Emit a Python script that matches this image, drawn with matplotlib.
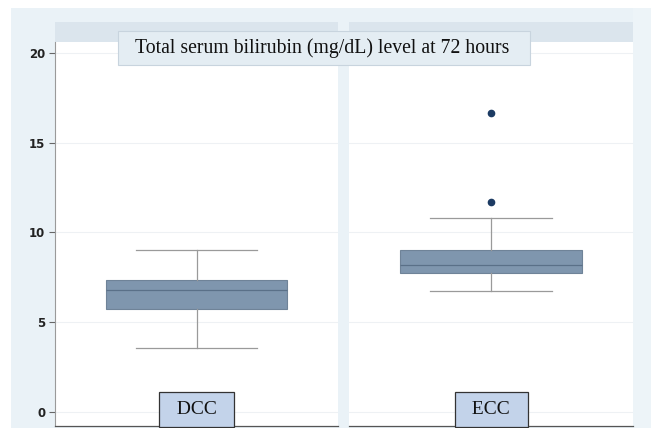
import matplotlib.pyplot as plt
from matplotlib.patches import Rectangle

# Box plot summaries (mg/dL)
groups = ["DCC", "ECC"]
q1 = [5.75, 7.74]
medians = [6.8, 8.19]
q3 = [7.34, 9.0]
whisker_low = [3.58, 6.74]
whisker_high = [9.0, 10.82]
outliers = [[], [11.7, 16.64]]

title = "Total serum bilirubin (mg/dL) level at 72 hours"
yticks = [0, 5, 10, 15, 20]

W, H = 651, 428
fig = plt.figure(figsize=(W / 100, H / 100), dpi=100)
fig.patch.set_facecolor("white")

def fx(px):
    return px / W

def fy(py):
    return 1 - py / H

# light blue-gray graph region
fig.patches.append(Rectangle((fx(11), 0), fx(640), fy(8), transform=fig.transFigure,
                             facecolor="#eaf2f7", edgecolor="none", zorder=-3))
fig.patches.append(Rectangle((fx(633), 0), fx(18), fy(8), transform=fig.transFigure,
                             facecolor="#edf4f8", edgecolor="none", zorder=-2))

panels = [(55, 338), (349, 633)]
axes = []
for i, (x0, x1) in enumerate(panels):
    # header strip above each panel
    fig.patches.append(Rectangle((fx(x0), fy(42)), fx(x1 - x0), fy(22) - fy(42),
                                 transform=fig.transFigure, facecolor="#dbe5ed",
                                 edgecolor="none", zorder=-1))
    ax = fig.add_axes([fx(x0), fy(426), fx(x1 - x0), fy(42) - fy(426)])
    ax.set_facecolor("white")

    stats = [{
        "q1": q1[i], "med": medians[i], "q3": q3[i],
        "whislo": whisker_low[i], "whishi": whisker_high[i],
        "fliers": outliers[i],
    }]
    ax.bxp(stats, positions=[0], widths=0.643, capwidths=0.43, patch_artist=True,
           boxprops=dict(facecolor="#7f96ae", edgecolor="#6f8398", linewidth=0.8),
           medianprops=dict(color="#5a7088", linewidth=0.9),
           whiskerprops=dict(color="#9a9a9a", linewidth=0.9),
           capprops=dict(color="#9a9a9a", linewidth=0.9),
           flierprops=dict(marker="o", markersize=4.5, markerfacecolor="#1c3b63",
                           markeredgecolor="#1c3b63"))

    ax.set_xlim(-0.5, 0.5)
    ax.set_ylim(-0.78, 20.6)
    ax.set_yticks(yticks)
    ax.set_xticks([])
    ax.grid(axis="y", color="#eef1f4", linewidth=0.8)
    ax.set_axisbelow(True)
    for s in ["top", "right"]:
        ax.spines[s].set_visible(False)
    ax.spines["bottom"].set_color("#555555")
    ax.spines["bottom"].set_linewidth(0.9)
    if i == 0:
        ax.spines["left"].set_color("#9a9a9a")
        ax.tick_params(axis="y", length=4, color="#666666", labelsize=8.5,
                       labelcolor="#222222", pad=3)
        for lab in ax.get_yticklabels():
            lab.set_fontweight("bold")
    else:
        ax.spines["left"].set_visible(False)
        ax.tick_params(axis="y", length=0, labelleft=False)

    ax.text(0, -0.33, " \u2009" + groups[i] + "\u2009 ", ha="center", va="bottom",
            family="Liberation Serif", fontsize=14, color="#111111",
            bbox=dict(boxstyle="square,pad=0.45", facecolor="#c3d3ea",
                      edgecolor="#333333", linewidth=0.9), zorder=5, clip_on=False)
    axes.append(ax)

# title box
fig.patches.append(Rectangle((fx(118), fy(65)), fx(412), fy(31) - fy(65),
                             transform=fig.transFigure, facecolor="#e4edf3",
                             edgecolor="#c8d4de", linewidth=0.8, zorder=9))
fig.text(fx(322), fy(48), title, ha="center", va="center",
         family="Liberation Serif", fontsize=14.2, color="#111111", zorder=10)

fig.savefig("out.png", dpi=100)
